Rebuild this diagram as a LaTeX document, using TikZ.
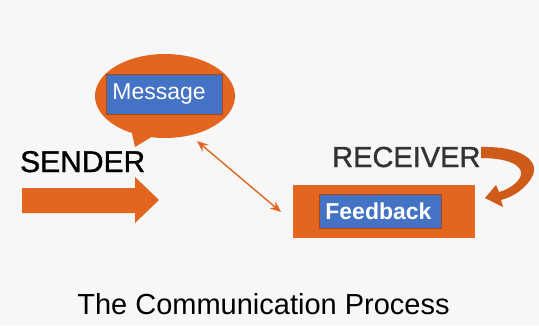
\documentclass[tikz,border=0pt]{standalone}
\usepackage{fontspec}
\setmainfont{Liberation Sans}
\newfontfamily\heavyfont{Liberation Sans}[FakeBold=1.2]
\usetikzlibrary{shapes.geometric,arrows.meta}
\definecolor{bg}{HTML}{F7F7F7}
\definecolor{org}{HTML}{E2661F}
\definecolor{orgdark}{HTML}{CF5B1B}
\definecolor{blu}{HTML}{4472C4}
\definecolor{rcv}{HTML}{333333}
\tikzset{
  bluebox/.style={fill=blu, draw=orgdark!80!black, line width=0.8pt, text=white,
    inner xsep=6pt, inner ysep=0pt, align=left},
  bigword/.style={inner sep=0pt, anchor=base west},
  orgfill/.style={fill=org, draw=none}
}
\begin{document}
\begin{tikzpicture}[x=1pt,y=-1pt]
\useasboundingbox (0,0) rectangle (539,325);
\fill[bg] (0,0) rectangle (539,325);
% speech bubble
\node[ellipse, orgfill, minimum width=140pt, minimum height=84pt] (bubble) at (165,96) {};
\fill[org] (130,124) -- (135,147) -- (158,133) -- cycle;
\node[bluebox, text width=104pt, minimum height=40pt, anchor=west,
  font=\fontsize{23}{26}\selectfont] (msg) at (106,94) {Message};
% sender
\node[bigword, font=\heavyfont\fontsize{30}{34}\selectfont, text=black] (sender) at (20,172) {SENDER};
\fill[org] (22,188) -- (135,188) -- (135,177) -- (159,200) -- (135,223) -- (135,213) -- (22,213) -- cycle;
% receiver
\node[bigword, font=\heavyfont\fontsize{29}{33}\selectfont, text=rcv] (receiver) at (332,167) {RECEIVER};
\fill[orgdark] (481,147) .. controls (520,146) and (539,160) .. (533,175)
  .. controls (527,188) and (513,197) .. (501,200)
  -- (503,207) -- (485,198) -- (496,185) -- (499,192)
  .. controls (510,189) and (519,182) .. (521,175)
  .. controls (523,164) and (505,158) .. (481,158) -- cycle;
% feedback
\node[orgfill, rectangle, minimum width=182pt, minimum height=53pt, anchor=north west, inner sep=0pt] (fbrect) at (293,185) {};
\node[bluebox, text width=110pt, minimum height=34pt, anchor=west,
  font=\bfseries\fontsize{23}{26}\selectfont] (fb) at (319,211) {Feedback};
% double arrow
\coordinate (a1) at (197,141);
\coordinate (a2) at (281,212);
\draw[org, line width=1.4pt, {Stealth[length=11pt,width=9pt]}-{Stealth[length=11pt,width=9pt]}] (a1) -- (a2);
% title
\node[font=\fontsize{29}{33}\selectfont, inner sep=0pt, anchor=base] (title) at (263.5,314) {The Communication Process};
\end{tikzpicture}
\end{document}
